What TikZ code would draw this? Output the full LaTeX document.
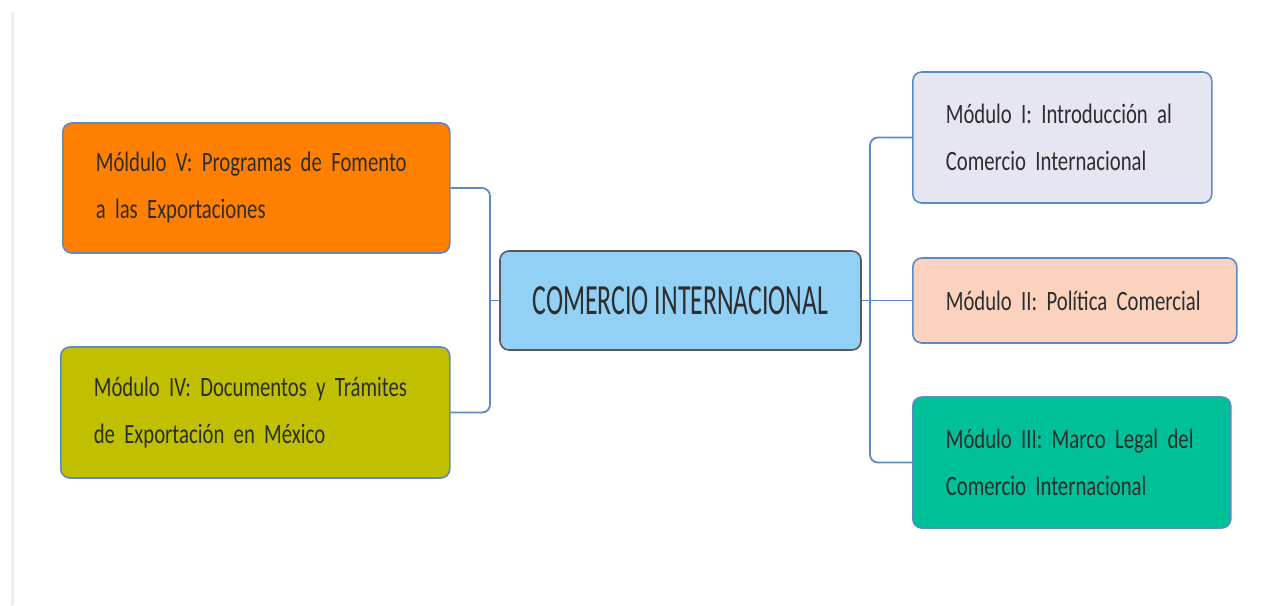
\documentclass[tikz,border=0pt]{standalone}
\usepackage{fontspec}
\usepackage{tikz}
\usetikzlibrary{positioning}
\newfontfamily\modfont[FakeStretch=0.74]{Carlito}
\newfontfamily\centerfont[FakeStretch=0.6]{Carlito}
\newcommand\modtextfont{\modfont\fontsize{28}{47}\selectfont\spaceskip=3pt\relax\hyphenpenalty=10000\relax}
\definecolor{linkblue}{RGB}{92,138,196}
\definecolor{textgray}{RGB}{45,45,45}
\definecolor{centerblue}{RGB}{146,208,245}
\definecolor{modorange}{RGB}{255,128,0}
\definecolor{modolive}{RGB}{192,192,0}
\definecolor{modlavender}{RGB}{230,230,242}
\definecolor{modpeach}{RGB}{250,210,190}
\definecolor{modteal}{RGB}{0,192,154}
\definecolor{edgegray}{RGB}{232,238,248}

\tikzset{
    modbox/.style={draw=linkblue, line width=1.6pt, rounded corners=9pt,
        anchor=west, align=left, inner xsep=33pt, inner ysep=0pt,
        text=textgray, font=\modtextfont},
    mainbox/.style={draw=black!65, line width=1.6pt, rounded corners=9pt,
        fill=centerblue, text=textgray, minimum width=361pt, minimum height=99pt,
        font=\centerfont\fontsize{43}{50}\selectfont},
    link/.style={draw=linkblue, line width=1.8pt, rounded corners=8pt}
}

\begin{document}
\begin{tikzpicture}[x=1pt, y=-1pt]
    \useasboundingbox (0,0) rectangle (1265,605);
    % page edge
    \draw[edgegray, line width=3pt] (12,12) -- (12,605);

    % central topic
    \node[mainbox] (center) at (680.5,300.5) {COMERCIO INTERNACIONAL};

    % left modules
    \node[modbox, fill=modorange, text width=321pt, minimum height=130pt]
        (m5) at (62,188) {Móldulo V: Programas de Fomento\\a las Exportaciones};
    \node[modbox, fill=modolive, text width=323pt, minimum height=131pt]
        (m4) at (60,412.5) {Módulo IV: Documentos y Trámites\\de Exportación en México};

    % right modules
    \node[modbox, fill=modlavender, text width=233pt, minimum height=131pt]
        (m1) at (912,137.5) {Módulo I: Introducción al\\Comercio Internacional};
    \node[modbox, fill=modpeach, text width=258pt, minimum height=85pt]
        (m2) at (912,300.5) {Módulo II: Política Comercial};
    \node[modbox, fill=modteal, text width=252pt, minimum height=131pt]
        (m3) at (912,462.5) {Módulo III: Marco Legal del\\Comercio Internacional};

    % connectors
    \coordinate (lj) at (490,300.5);
    \coordinate (rj) at (870,300.5);
    \draw[link] (m5.east) -| (lj) |- (m4.east);
    \draw[link] (center.west) -- (lj);
    \draw[link] (m1.west) -| (rj) |- (m3.west);
    \draw[link] (center.east) -- (m2.west);
\end{tikzpicture}
\end{document}
